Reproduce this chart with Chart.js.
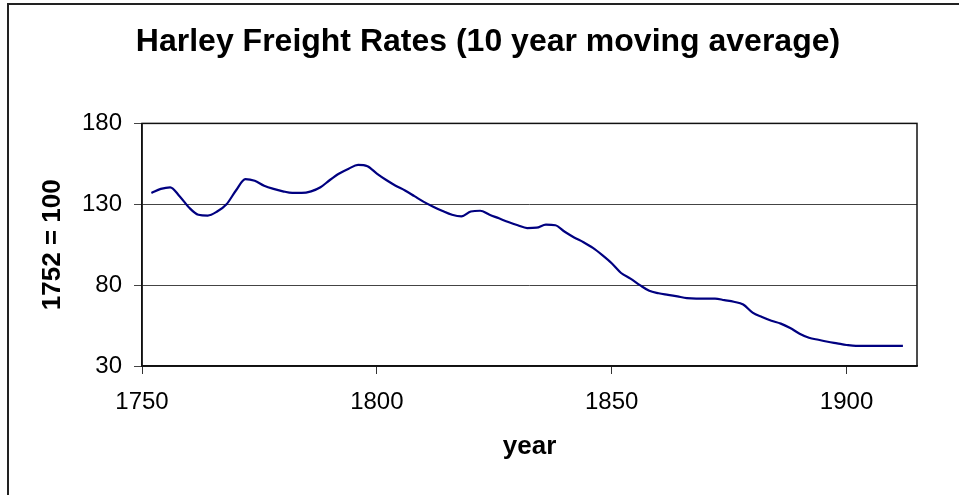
<!DOCTYPE html>
<html>
<head>
<meta charset="utf-8">
<title>Harley Freight Rates</title>
<script src="https://cdn.jsdelivr.net/npm/chart.js@4"></script>
<style>
  html, body { margin: 0; padding: 0; background: #fff; }
  #wrap { width: 959px; height: 495px; }
</style>
</head>
<body>
<div id="wrap"><canvas id="freightChart" width="959" height="495"></canvas></div>
<script>
// data (every 2 years)
const years = [
  1752, 1754, 1756, 1758, 1760, 1762, 1764, 1766, 1768, 1770,
  1772, 1774, 1776, 1778, 1780, 1782, 1784, 1786, 1788, 1790,
  1792, 1794, 1796, 1798, 1800, 1802, 1804, 1806, 1808, 1810,
  1812, 1814, 1816, 1818, 1820, 1822, 1824, 1826, 1828, 1830,
  1832, 1834, 1836, 1838, 1840, 1842, 1844, 1846, 1848, 1850,
  1852, 1854, 1856, 1858, 1860, 1862, 1864, 1866, 1868, 1870,
  1872, 1874, 1876, 1878, 1880, 1882, 1884, 1886, 1888, 1890,
  1892, 1894, 1896, 1898, 1900, 1902, 1904, 1906, 1908, 1910,
  1912
];
const rates = [
  137, 139.5, 140.5, 135, 128, 123.5, 123, 125.5, 130, 138.5,
  145.5, 144.5, 141.5, 139.5, 138, 137, 137, 138, 140.5, 145,
  149, 152, 154.3, 153.5, 149, 145, 141.5, 138.5, 135, 131.5,
  128.5, 125.8, 123.5, 122.5, 125.5, 126, 123.5, 121.3, 119, 117,
  115.3, 115.5, 117.4, 117, 113, 109.5, 106.5, 103, 98.5, 93.5,
  87.5, 84, 80, 76.5, 75, 74, 73, 72, 71.7, 71.7,
  71.7, 70.7, 69.7, 68, 63, 60.3, 58, 56.2, 53.5, 50,
  47.5, 46.2, 45, 44, 43, 42.4, 42.4, 42.4, 42.4, 42.4,
  42.4
];
const xTicks = [1750, 1800, 1850, 1900];
const yTicks = [30, 80, 130, 180];

document.addEventListener('DOMContentLoaded', () => {
    const points = years.map((yr, i) => ({ x: yr, y: rates[i] }));

    // white page, outer frame and the plot box
    const framePlugin = {
        id: 'frame',
        beforeDraw(chart) {
            const ctx = chart.ctx;
            ctx.save();
            ctx.fillStyle = '#fff';
            ctx.fillRect(0, 0, chart.width, chart.height);
            ctx.strokeStyle = '#222';
            ctx.lineWidth = 2;
            ctx.beginPath();
            ctx.moveTo(8, chart.height + 2);
            ctx.lineTo(8, 4);
            ctx.lineTo(chart.width + 2, 4);
            ctx.stroke();
            ctx.restore();
        },
        afterDraw(chart) {
            const a = chart.chartArea;
            const ctx = chart.ctx;
            ctx.save();
            ctx.strokeStyle = '#111';
            ctx.lineWidth = 1.5;
            ctx.strokeRect(a.left, a.top, a.right - a.left, a.bottom - a.top);
            ctx.restore();
        }
    };

    const ctx = document.getElementById('freightChart').getContext('2d');
    new Chart(ctx, {
        type: 'line',
        data: {
            datasets: [{
                label: 'Freight rate',
                data: points,
                borderColor: '#000080',
                borderWidth: 2.2,
                pointRadius: 0,
                cubicInterpolationMode: 'monotone',
                fill: false
            }]
        },
        options: {
            responsive: false,
            animation: false,
            layout: { padding: { left: 59, right: 42, top: 0, bottom: 0 } },
            plugins: {
                legend: { display: false },
                tooltip: { enabled: false },
                title: {
                    display: true,
                    text: 'Harley Freight Rates (10 year moving average)',
                    color: '#000',
                    font: { family: 'Arial, "Liberation Sans", sans-serif', size: 32, weight: 'bold' },
                    padding: { top: 23, bottom: 62 }
                }
            },
            scales: {
                x: {
                    type: 'linear',
                    min: 1750,
                    max: 1915,
                    afterBuildTicks: scale => { scale.ticks = xTicks.map(v => ({ value: v })); },
                    afterFit: scale => { scale.height = 129; },
                    grid: { drawOnChartArea: false, drawTicks: true, tickLength: 8, color: '#333' },
                    border: { display: true, color: '#111', width: 1.5 },
                    ticks: {
                        color: '#000',
                        padding: 14,
                        maxRotation: 0,
                        callback: value => String(value),
                        font: { family: 'Arial, "Liberation Sans", sans-serif', size: 24 }
                    },
                    title: {
                        display: true,
                        text: 'year',
                        color: '#000',
                        font: { family: 'Arial, "Liberation Sans", sans-serif', size: 26, weight: 'bold' },
                        padding: { top: 0, bottom: 33 }
                    }
                },
                y: {
                    min: 30,
                    max: 180,
                    afterBuildTicks: scale => { scale.ticks = yTicks.map(v => ({ value: v })); },
                    afterFit: scale => { scale.width = 83; },
                    grid: { drawTicks: true, tickLength: 8, color: '#444', lineWidth: 1 },
                    border: { display: true, color: '#111', width: 1.5 },
                    ticks: {
                        color: '#000',
                        padding: 12,
                        callback: value => String(value),
                        font: { family: 'Arial, "Liberation Sans", sans-serif', size: 24 }
                    },
                    title: {
                        display: true,
                        text: '1752 = 100',
                        color: '#000',
                        font: { family: 'Arial, "Liberation Sans", sans-serif', size: 26, weight: 'bold' },
                        padding: { top: -22, bottom: 0 }
                    }
                }
            }
        },
        plugins: [framePlugin]
    });
});
</script>
</body>
</html>
